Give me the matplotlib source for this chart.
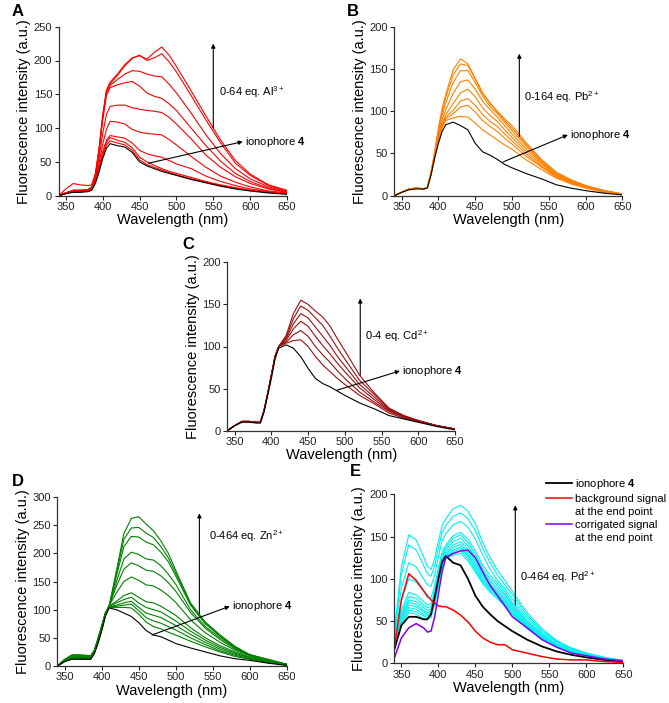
import matplotlib
matplotlib.use("Agg")
import matplotlib.pyplot as plt
from matplotlib.lines import Line2D

plt.rcParams["font.family"] = ["Liberation Sans", "DejaVu Sans"]
plt.rcParams["mathtext.fontset"] = "custom"
plt.rcParams["mathtext.rm"] = "Liberation Sans"
plt.rcParams["mathtext.it"] = "Liberation Sans:italic"
plt.rcParams["mathtext.bf"] = "Liberation Sans:bold"

# wavelength grid (nm) shared by all spectra
wavelength = [340, 350, 360, 370, 380, 385, 390, 395, 400, 405, 410, 420, 430, 440,
              450, 460, 470, 480, 490, 500, 520, 540, 560, 580, 600, 625, 650]

# A: Al3+ titration
a_ionophore = [0, 3, 5, 5, 6, 8, 18, 35, 55, 70, 77, 74, 72, 64, 50, 44, 40, 36, 33, 30, 24, 19, 14, 10, 7, 4, 2]
a_spectra = [
    [0, 3, 6, 6, 7, 9, 20, 38, 59, 75, 81, 78, 75, 67, 53, 46, 42, 38, 34, 31, 25, 20, 15, 11, 8, 5, 3],
    [0, 4, 6, 6, 7, 9, 21, 40, 62, 79, 86, 82, 79, 71, 57, 50, 45, 40, 36, 33, 27, 21, 16, 12, 8, 5, 3],
    [0, 4, 7, 7, 8, 10, 22, 42, 65, 82, 89, 87, 85, 78, 67, 62, 59, 57, 52, 47, 40, 29, 21, 15, 10, 6, 3],
    [0, 4, 7, 7, 8, 10, 24, 48, 76, 98, 110, 109, 106, 98, 94, 92, 91, 90, 83, 75, 58, 42, 29, 20, 13, 7, 4],
    [0, 4, 7, 7, 8, 11, 26, 56, 92, 120, 132, 134, 134, 130, 128, 126, 125, 123, 116, 106, 84, 60, 42, 28, 18, 10, 5],
    [0, 4, 8, 8, 9, 12, 28, 65, 112, 148, 160, 164, 167, 169, 162, 152, 147, 144, 136, 126, 100, 74, 51, 33, 21, 11, 5],
    [0, 4, 8, 8, 9, 12, 29, 67, 115, 152, 163, 172, 180, 185, 184, 180, 177, 176, 165, 152, 122, 90, 62, 40, 25, 13, 6],
    [0, 4, 8, 8, 9, 13, 30, 68, 117, 154, 165, 178, 192, 203, 208, 200, 204, 210, 198, 183, 148, 112, 78, 48, 30, 15, 7],
    [0, 10, 18, 16, 15, 16, 33, 70, 120, 156, 168, 180, 194, 204, 207, 202, 212, 220, 208, 191, 155, 118, 82, 52, 32, 16, 8],
]

# B: Pb2+ titration
b_ionophore = [0, 4, 7, 8, 8, 9, 25, 45, 62, 76, 84, 87, 83, 78, 62, 52, 48, 43, 37, 33, 26, 20, 13, 9, 6, 3, 1]
b_spectra = [
    [0, 4, 8, 9, 8, 10, 25, 45, 65, 80, 89, 92, 94, 93, 86, 78, 72, 66, 60, 55, 42, 31, 21, 14, 9, 4, 2],
    [0, 4, 8, 9, 8, 10, 25, 46, 67, 82, 91, 97, 105, 107, 99, 89, 82, 76, 68, 61, 46, 34, 22, 15, 10, 5, 2],
    [0, 4, 8, 9, 8, 10, 26, 47, 68, 84, 93, 101, 112, 115, 107, 96, 88, 82, 73, 65, 49, 35, 23, 16, 10, 5, 2],
    [0, 4, 8, 9, 8, 10, 26, 48, 70, 86, 96, 109, 122, 126, 117, 104, 95, 88, 78, 69, 52, 37, 24, 16, 11, 5, 2],
    [0, 4, 8, 9, 8, 10, 27, 49, 72, 90, 102, 121, 135, 137, 126, 112, 102, 93, 83, 73, 55, 39, 25, 17, 11, 6, 2],
    [0, 4, 8, 9, 8, 10, 27, 50, 75, 95, 110, 134, 148, 148, 134, 118, 106, 97, 87, 77, 58, 40, 26, 18, 11, 6, 2],
    [0, 4, 8, 9, 8, 10, 28, 52, 78, 100, 116, 143, 156, 154, 138, 121, 109, 99, 89, 80, 60, 42, 27, 18, 12, 6, 2],
    [0, 4, 8, 9, 8, 10, 28, 53, 80, 103, 120, 149, 162, 156, 139, 122, 110, 100, 91, 83, 62, 43, 28, 19, 12, 6, 2],
]

# C: Cd2+ titration
c_ionophore = [0, 6, 10, 10, 9, 9, 22, 42, 62, 85, 98, 102, 98, 88, 74, 62, 56, 52, 47, 42, 33, 26, 18, 14, 10, 5, 1]
c_spectra = [
    [0, 6, 11, 11, 10, 10, 24, 44, 66, 88, 100, 104, 107, 108, 100, 88, 78, 70, 62, 55, 42, 32, 21, 15, 11, 6, 2],
    [0, 6, 11, 11, 10, 10, 24, 44, 66, 88, 100, 105, 114, 119, 112, 100, 90, 81, 71, 62, 46, 34, 23, 16, 11, 6, 2],
    [0, 6, 11, 11, 10, 10, 24, 44, 66, 88, 100, 107, 121, 130, 124, 112, 101, 91, 80, 70, 51, 37, 24, 17, 12, 6, 2],
    [0, 6, 11, 11, 10, 10, 24, 44, 66, 88, 100, 109, 127, 139, 134, 123, 112, 101, 88, 77, 55, 40, 25, 17, 12, 6, 2],
    [0, 6, 11, 11, 10, 10, 24, 44, 66, 88, 100, 111, 133, 148, 143, 134, 125, 112, 98, 85, 60, 43, 26, 18, 12, 6, 2],
    [0, 6, 11, 11, 10, 10, 24, 44, 66, 88, 100, 113, 139, 155, 150, 142, 135, 124, 109, 95, 66, 45, 27, 18, 12, 6, 2],
]

# D: Zn2+ titration
d_ionophore = [0, 8, 12, 12, 12, 12, 22, 40, 62, 88, 103, 100, 94, 88, 77, 63, 55, 52, 46, 40, 32, 25, 18, 13, 10, 5, 1]
d_spectra = [
    [0, 8, 13, 13, 12, 12, 23, 42, 65, 90, 104, 104, 104, 103, 92, 78, 70, 66, 60, 55, 44, 34, 25, 17, 12, 6, 2],
    [0, 8, 13, 13, 12, 12, 23, 42, 65, 90, 105, 106, 108, 110, 98, 86, 80, 76, 70, 64, 50, 38, 27, 19, 13, 7, 2],
    [0, 8, 14, 14, 13, 13, 24, 43, 66, 91, 105, 108, 112, 115, 104, 94, 90, 86, 79, 72, 56, 42, 30, 21, 14, 7, 2],
    [0, 9, 14, 14, 13, 13, 24, 43, 66, 91, 106, 112, 118, 122, 112, 104, 100, 96, 88, 80, 62, 46, 33, 23, 15, 8, 2],
    [0, 9, 14, 14, 13, 13, 24, 44, 67, 92, 106, 115, 125, 130, 122, 114, 112, 106, 98, 90, 68, 50, 36, 25, 16, 8, 2],
    [0, 9, 15, 15, 14, 14, 25, 44, 67, 92, 107, 130, 150, 158, 152, 144, 142, 135, 125, 113, 82, 59, 42, 28, 18, 9, 3],
    [0, 10, 16, 16, 15, 15, 25, 45, 68, 93, 107, 142, 172, 183, 178, 170, 168, 160, 148, 133, 95, 67, 47, 30, 19, 10, 3],
    [0, 10, 17, 17, 16, 16, 26, 46, 69, 93, 107, 150, 190, 202, 198, 190, 188, 178, 163, 145, 100, 70, 50, 32, 19, 10, 3],
    [0, 11, 18, 18, 17, 17, 27, 47, 70, 94, 106, 160, 212, 230, 229, 220, 215, 202, 185, 160, 108, 75, 53, 33, 20, 11, 3],
    [0, 11, 19, 19, 18, 18, 27, 48, 71, 94, 106, 165, 225, 245, 246, 236, 228, 212, 192, 165, 110, 76, 54, 34, 20, 11, 3],
    [0, 12, 20, 20, 19, 18, 28, 50, 72, 95, 105, 170, 235, 262, 265, 252, 240, 222, 200, 170, 112, 78, 55, 35, 20, 12, 3],
]

# E: Pd2+ titration
e_ionophore = [15, 45, 55, 55, 52, 52, 58, 78, 100, 120, 127, 119, 116, 100, 80, 67, 58, 50, 44, 38, 28, 20, 14, 10, 7, 4, 2]
e_background = [15, 75, 106, 98, 86, 80, 75, 71, 68, 67, 67, 63, 57, 49, 38, 30, 25, 22, 22, 16, 12, 8, 5, 4, 4, 2, 1]
e_corrected = [5, 30, 42, 47, 42, 37, 38, 55, 82, 108, 125, 130, 133, 134, 125, 108, 92, 80, 68, 55, 42, 28, 19, 12, 9, 5, 3]
e_spectra = [
    [20, 45, 60, 58, 53, 52, 54, 70, 92, 112, 124, 128, 130, 121, 108, 94, 84, 76, 67, 57, 41, 29, 19, 13, 9, 5, 3],
    [22, 47, 63, 61, 56, 54, 56, 72, 94, 114, 125, 130, 133, 124, 110, 96, 86, 78, 69, 59, 42, 29, 20, 13, 9, 5, 3],
    [22, 50, 66, 64, 58, 56, 58, 74, 96, 116, 126, 132, 136, 127, 113, 98, 88, 80, 71, 60, 43, 30, 20, 14, 10, 5, 3],
    [23, 52, 69, 67, 61, 58, 60, 76, 98, 118, 127, 134, 138, 129, 115, 100, 90, 82, 73, 62, 44, 30, 21, 14, 10, 5, 3],
    [24, 54, 72, 70, 63, 60, 62, 78, 100, 120, 129, 137, 141, 132, 118, 103, 92, 84, 75, 64, 45, 31, 21, 15, 10, 5, 3],
    [24, 56, 75, 73, 66, 63, 64, 80, 102, 122, 131, 140, 144, 135, 121, 105, 94, 86, 77, 66, 46, 32, 22, 15, 10, 6, 3],
    [25, 59, 79, 77, 69, 66, 67, 83, 105, 125, 134, 144, 148, 139, 125, 109, 97, 89, 80, 68, 48, 33, 22, 15, 11, 6, 3],
    [26, 63, 84, 81, 73, 69, 70, 86, 108, 128, 137, 148, 152, 143, 129, 112, 100, 92, 82, 70, 49, 34, 23, 16, 11, 6, 3],
    [28, 75, 100, 96, 85, 78, 77, 92, 113, 132, 140, 151, 155, 147, 133, 116, 104, 95, 85, 72, 51, 35, 23, 16, 11, 6, 3],
    [30, 89, 119, 114, 100, 93, 91, 105, 126, 145, 153, 164, 168, 161, 147, 128, 111, 98, 88, 76, 54, 37, 25, 17, 12, 6, 3],
    [32, 105, 140, 134, 116, 106, 103, 116, 136, 155, 163, 174, 178, 171, 157, 136, 119, 104, 93, 81, 57, 39, 26, 18, 12, 7, 3],
    [34, 114, 152, 146, 126, 115, 111, 124, 144, 163, 171, 183, 187, 180, 165, 143, 125, 110, 98, 85, 60, 41, 27, 18, 12, 7, 3],
]

W, H = 669, 703


def px_axes(fig, left, top, right, bottom):
    return fig.add_axes([left / W, 1 - bottom / H, (right - left) / W, (bottom - top) / H])


def style_axes(ax, ymax, ystep):
    ax.set_xlim(340, 650)
    ax.set_ylim(0, ymax)
    ax.set_xticks(range(350, 651, 50))
    ax.set_yticks(range(0, ymax + 1, ystep))
    for s in ["top", "right"]:
        ax.spines[s].set_visible(False)
    for s in ["left", "bottom"]:
        ax.spines[s].set_linewidth(0.9)
        ax.spines[s].set_color("#333333")
    ax.tick_params(direction="out", length=3, width=0.8, labelsize=8, pad=1.5, colors="#222222")
    ax.set_xlabel("Wavelength (nm)", fontsize=10.5, labelpad=1)
    ax.set_ylabel("Fluorescence intensity (a.u.)", fontsize=10.5, labelpad=2)


def draw_arrows(ax, x_up, y0, y1, label, tx, ty, ion=None):
    arrow = dict(arrowstyle="-|>", color="black", lw=0.8, mutation_scale=6, shrinkA=0, shrinkB=0)
    ax.annotate("", xy=(x_up, y1), xytext=(x_up, y0), arrowprops=arrow)
    ax.text(tx, ty, label, fontsize=8, va="center", ha="left")
    if ion is not None:
        (x0, yy0), (x1, yy1) = ion
        ax.annotate("", xy=(x1, yy1), xytext=(x0, yy0), arrowprops=arrow)
        ax.text(x1 + 3, yy1, r"ionophore $\mathbf{4}$", fontsize=8, va="center", ha="left")


fig = plt.figure(figsize=(W / 100, H / 100), dpi=100)

# panel A
ax = px_axes(fig, 58.5, 26.7, 287, 195.7)
for y in a_spectra:
    ax.plot(wavelength, y, color="#FF0000", lw=0.8)
ax.plot(wavelength, a_ionophore, color="black", lw=0.8)
style_axes(ax, 250, 50)
draw_arrows(ax, 550, 100, 225, r"0-64 eq. Al$^{3+}$", 558, 153, ion=((462, 48), (590, 80)))

# panel B
ax = px_axes(fig, 394.3, 26.7, 622.3, 195.7)
for y in b_spectra:
    ax.plot(wavelength, y, color="#FF8000", lw=0.8)
ax.plot(wavelength, b_ionophore, color="black", lw=0.8)
style_axes(ax, 200, 50)
draw_arrows(ax, 510, 70, 168, r"0-164 eq. Pb$^{2+}$", 517, 117, ion=((488, 40), (576, 72)))

# panel C
ax = px_axes(fig, 227.3, 262.3, 455, 430.7)
for y in c_spectra:
    ax.plot(wavelength, y, color="#9A0F0F", lw=0.8)
ax.plot(wavelength, c_ionophore, color="black", lw=0.8)
style_axes(ax, 200, 50)
draw_arrows(ax, 521, 66, 157, r"0-4 eq. Cd$^{2+}$", 527, 112, ion=((489, 48), (575, 71)))

# panel D
ax = px_axes(fig, 57.3, 497, 286.7, 666)
for y in d_spectra:
    ax.plot(wavelength, y, color="#008000", lw=0.8)
ax.plot(wavelength, d_ionophore, color="black", lw=0.8)
style_axes(ax, 300, 50)
draw_arrows(ax, 532, 93, 271, r"0-464 eq. Zn$^{2+}$", 545, 231, ion=((468, 55), (573, 106)))

# panel E
ax = px_axes(fig, 394, 494.3, 623.3, 663.3)
for y in e_spectra:
    ax.plot(wavelength, y, color="#00F0F0", lw=0.8)
l1, = ax.plot(wavelength, e_ionophore, color="black", lw=1.3)
l2, = ax.plot(wavelength, e_background, color="#FF0000", lw=1.1)
l3, = ax.plot(wavelength, e_corrected, color="#8000FF", lw=1.1)
style_axes(ax, 200, 50)
draw_arrows(ax, 504, 69, 187, r"0-464 eq. Pd$^{2+}$", 510, 102)
blank = Line2D([], [], color="none")
ax.legend([l1, l2, blank, l3, blank],
          [r"ionophore $\mathbf{4}$", "background signal", "at the end point",
           "corrigated signal", "at the end point"],
          loc="upper left", bbox_to_anchor=(0.665, 1.105), frameon=False, fontsize=8,
          handlelength=2.3, handletextpad=0.3, labelspacing=0.28, borderpad=0,
          borderaxespad=0)

# panel letters
for letter, x, y in [("A", 12, 4), ("B", 347, 4), ("C", 182, 237), ("D", 12, 474), ("E", 350, 464)]:
    fig.text(x / W, 1 - y / H, letter, fontsize=12, fontweight="bold", va="top", ha="left")

fig.savefig("out.png", dpi=100)
